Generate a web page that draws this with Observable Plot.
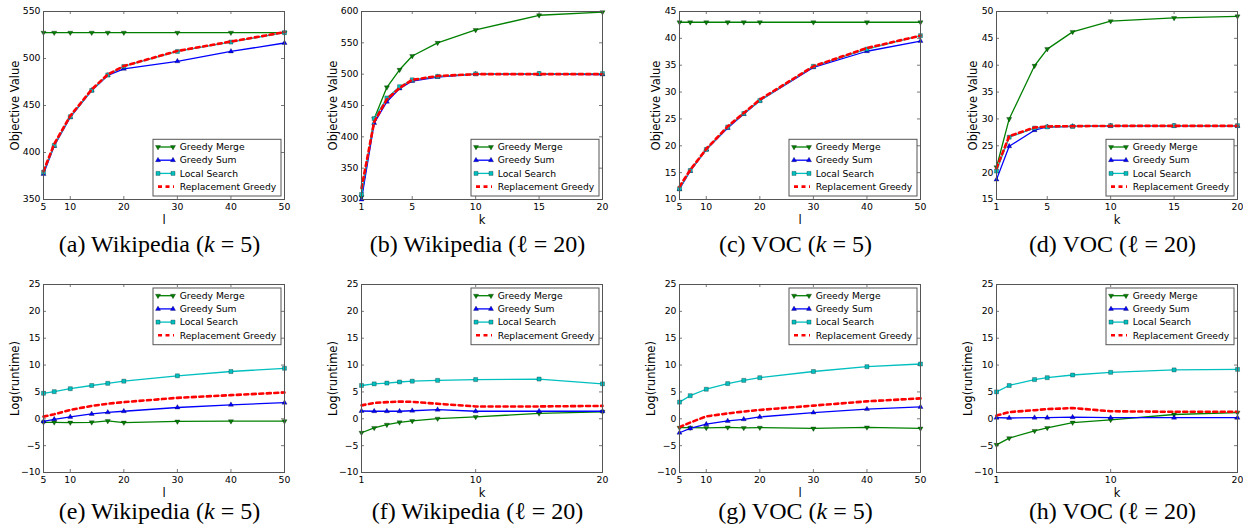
<!DOCTYPE html>
<html><head><meta charset="utf-8">
<script src="https://cdn.jsdelivr.net/npm/d3@7"></script>
<script src="https://cdn.jsdelivr.net/npm/@observablehq/plot@0.6"></script>
<style>
body{margin:0;background:#fff;}
#root{position:relative;width:1243px;height:529px;overflow:hidden;background:#fff;}
.panel{position:absolute;}
.cap{position:absolute;font-family:"Liberation Serif","Times New Roman",serif;font-size:24px;white-space:nowrap;transform:translateX(-50%);color:#000;line-height:20px;}
</style></head><body><div id="root"></div>
<script>
// ---------- data ----------
const seriesNames = ["Greedy Merge", "Greedy Sum", "Local Search", "Replacement Greedy"];
const lValues = [5, 7, 10, 14, 17, 20, 30, 40, 50];
const kValuesWiki = [1, 2, 3, 4, 5, 7, 10, 15, 20];
const kValuesVoc = [1, 2, 4, 5, 7, 10, 15, 20];

const lTicks = [5, 10, 20, 30, 40, 50];
const kTicksObj = [1, 5, 10, 15, 20];
const kTicksRun = [1, 10, 20];
const yTicksA = [350, 400, 450, 500, 550];
const yTicksB = [300, 350, 400, 450, 500, 550, 600];
const yTicksC = [10, 15, 20, 25, 30, 35, 40, 45];
const yTicksD = [15, 20, 25, 30, 35, 40, 45, 50];
const yTicksRun = [-10, -5, 0, 5, 10, 15, 20, 25];

// (a) Wikipedia, k = 5, objective vs l
const a_merge = [527.5, 527.5, 527.5, 527.5, 527.5, 527.5, 527.5, 527.5, 527.5];
const a_sum   = [377, 407, 437.5, 466, 482, 489, 497, 507.5, 516.5];
const a_local = [379, 407.5, 438, 466, 482.5, 491.5, 507.5, 517.5, 527.5];
const a_repl  = [380, 409, 439, 467, 483, 492, 508, 518, 528];
// (b) Wikipedia, l = 20, objective vs k
const b_merge = [304, 429, 479, 507, 529, 550, 570.5, 594, 599];
const b_sum   = [300, 422, 456, 477, 489, 495.5, 500, 500, 499.5];
const b_local = [308, 429, 462, 480, 491, 496.5, 500.5, 501, 501];
const b_repl  = [318, 424, 460, 478, 491, 497, 500, 500, 500];
// (c) VOC, k = 5, objective vs l
const c_merge = [43, 43, 43, 43, 43, 43, 43, 43, 43];
const c_sum   = [11.9, 15.3, 19.3, 23.3, 25.9, 28.4, 34.6, 37.6, 39.5];
const c_local = [12.0, 15.4, 19.3, 23.5, 26.0, 28.4, 34.8, 38.0, 40.5];
const c_repl  = [12.4, 15.5, 19.4, 23.6, 26.1, 28.6, 34.8, 38.2, 40.5];
// (d) VOC, l = 20, objective vs k
const d_merge = [21, 30, 39.9, 43, 46.2, 48.2, 48.8, 49.1];
const d_sum   = [18.7, 24.9, 27.9, 28.5, 28.6, 28.7, 28.7, 28.7];
const d_local = [20.3, 26.6, 28.3, 28.5, 28.6, 28.75, 28.75, 28.75];
const d_repl  = [20.8, 26.8, 28.4, 28.6, 28.65, 28.7, 28.7, 28.7];
// (e) Wikipedia, k = 5, log runtime vs l
const e_merge = [-0.65, -0.65, -0.7, -0.65, -0.4, -0.7, -0.5, -0.45, -0.45];
const e_sum   = [-0.5, -0.1, 0.35, 0.9, 1.2, 1.4, 2.1, 2.6, 3.0];
const e_local = [4.75, 5.05, 5.6, 6.2, 6.6, 7.0, 8.0, 8.8, 9.4];
const e_repl  = [0.4, 0.85, 1.65, 2.4, 2.8, 3.1, 3.9, 4.4, 4.9];
// (f) Wikipedia, l = 20, log runtime vs k
const f_merge = [-2.6, -1.7, -1.1, -0.65, -0.4, 0.03, 0.35, 1.0, 1.3];
const f_sum   = [1.45, 1.4, 1.4, 1.4, 1.5, 1.7, 1.4, 1.4, 1.4];
const f_local = [6.2, 6.5, 6.65, 6.85, 7.0, 7.15, 7.3, 7.4, 6.5];
const f_repl  = [2.5, 2.95, 3.1, 3.2, 3.15, 2.8, 2.3, 2.3, 2.4];
// (g) VOC, k = 5, log runtime vs l
const g_merge = [-1.65, -1.65, -1.7, -1.6, -1.7, -1.65, -1.8, -1.6, -1.8];
const g_sum   = [-2.6, -1.8, -1.0, -0.4, -0.1, 0.35, 1.15, 1.8, 2.2];
const g_local = [3.1, 4.3, 5.5, 6.55, 7.15, 7.65, 8.8, 9.7, 10.2];
const g_repl  = [-1.55, -0.7, 0.45, 1.0, 1.35, 1.65, 2.45, 3.25, 3.8];
// (h) VOC, l = 20, log runtime vs k
const h_merge = [-4.85, -3.6, -2.25, -1.7, -0.7, -0.2, 0.8, 1.15];
const h_sum   = [0.2, 0.15, 0.2, 0.2, 0.3, 0.2, 0.2, 0.2];
const h_local = [5.0, 6.2, 7.3, 7.65, 8.15, 8.65, 9.1, 9.2];
const h_repl  = [0.6, 1.25, 1.6, 1.8, 2.0, 1.4, 1.3, 1.3];

// ---------- styling ----------
const colors = ["#008000", "#0000ff", "#00bfbf", "#ff0000"];
const triangleDown = {
  draw(context, size) {
    const y = -Math.sqrt(size / (Math.sqrt(3) * 3));
    context.moveTo(0, -y * 2);
    context.lineTo(-Math.sqrt(3) * y, y);
    context.lineTo(Math.sqrt(3) * y, y);
    context.closePath();
  }
};
const symbols = [triangleDown, d3.symbolTriangle, d3.symbolSquare, null];
const radii = [1.9, 1.9, 2.3, 0];
const dash = "4,3.5";

const FW = 241, FH = 188, ML = 45, MT = 11, MR = 12, MB = 42;
const frameLefts = [43, 361, 679, 996];
const frameTops = [11, 284];

const panels = [
  {row:0, col:0, xs:lValues, xt:lTicks, xl:"l", yd:[350,550], yt:yTicksA, yl:"Objective Value", lo:33, s:[a_merge,a_sum,a_local,a_repl], cap:'(a) Wikipedia (<i>k</i> = 5)'},
  {row:0, col:1, xs:kValuesWiki, xt:kTicksObj, xl:"k", yd:[300,600], yt:yTicksB, yl:"Objective Value", lo:33, s:[b_merge,b_sum,b_local,b_repl], cap:'(b) Wikipedia (ℓ = 20)'},
  {row:0, col:2, xs:lValues, xt:lTicks, xl:"l", yd:[10,45], yt:yTicksC, yl:"Objective Value", lo:28, s:[c_merge,c_sum,c_local,c_repl], cap:'(c) VOC (<i>k</i> = 5)'},
  {row:0, col:3, xs:kValuesVoc, xt:kTicksObj, xl:"k", yd:[15,50], yt:yTicksD, yl:"Objective Value", lo:28, s:[d_merge,d_sum,d_local,d_repl], cap:'(d) VOC (ℓ = 20)'},
  {row:1, col:0, xs:lValues, xt:lTicks, xl:"l", yd:[-10,25], yt:yTicksRun, yl:"Log(runtime)", lo:33, s:[e_merge,e_sum,e_local,e_repl], cap:'(e) Wikipedia (<i>k</i> = 5)'},
  {row:1, col:1, xs:kValuesWiki, xt:kTicksRun, xl:"k", yd:[-10,25], yt:yTicksRun, yl:"Log(runtime)", lo:33, s:[f_merge,f_sum,f_local,f_repl], cap:'(f) Wikipedia (ℓ = 20)'},
  {row:1, col:2, xs:lValues, xt:lTicks, xl:"l", yd:[-10,25], yt:yTicksRun, yl:"Log(runtime)", lo:33, s:[g_merge,g_sum,g_local,g_repl], cap:'(g) VOC (<i>k</i> = 5)'},
  {row:1, col:3, xs:kValuesVoc, xt:kTicksRun, xl:"k", yd:[-10,25], yt:yTicksRun, yl:"Log(runtime)", lo:33, s:[h_merge,h_sum,h_local,h_repl], cap:'(h) VOC (ℓ = 20)'}
];

const root = document.getElementById("root");
const axisColor = "#555";

function addLegend(svg, row) {
  const bw = 128, bh = 56.7;
  const bx = ML + FW - 3 - bw;
  const by = row === 0 ? MT + FH - 3 - bh : MT + 4;
  const g = d3.select(svg).append("g").attr("transform", `translate(${bx},${by})`)
    .attr("text-anchor", "start");
  g.append("rect").attr("width", bw).attr("height", bh).attr("fill", "white").attr("stroke", "#555").attr("stroke-width", 1);
  seriesNames.forEach((name, i) => {
    const cy = 7.7 + i * 13.2;
    const line = g.append("line").attr("x1", 5).attr("x2", 20).attr("y1", cy).attr("y2", cy).attr("stroke", colors[i]);
    if (i === 3) line.attr("stroke-width", 2.6).attr("stroke-dasharray", dash).attr("x1", 5).attr("x2", 21);
    else line.attr("stroke-width", 1.3);
    if (symbols[i]) {
      const sym = d3.symbol().type(symbols[i]).size(radii[i] * radii[i] * Math.PI);
      [5, 20].forEach(px => g.append("path").attr("d", sym()).attr("transform", `translate(${px},${cy})`)
        .attr("fill", colors[i]).attr("stroke", "#000").attr("stroke-width", 0.4).attr("stroke-opacity", 0.7));
    }
    g.append("text").attr("x", 26.7).attr("y", cy).attr("dy", "0.35em").attr("font-size", 9.2)
      .attr("text-anchor", "start").attr("font-family", "DejaVu Sans").attr("fill", "#000").text(name);
  });
}

panels.forEach(p => {
  const marks = [];
  p.s.forEach((vals, i) => {
    const rows = p.xs.map((x, j) => ({x, y: vals[j]}));
    if (i === 3) {
      marks.push(Plot.line(rows, {x: "x", y: "y", stroke: colors[i], strokeWidth: 2.6, strokeDasharray: dash}));
    } else {
      marks.push(Plot.line(rows, {x: "x", y: "y", stroke: colors[i], strokeWidth: 1.3}));
      marks.push(Plot.dot(rows, {x: "x", y: "y", symbol: symbols[i], r: radii[i], fill: colors[i], stroke: "#000", strokeWidth: 0.4, strokeOpacity: 0.7}));
    }
  });
  const plot = Plot.plot({
    width: ML + FW + MR, height: MT + FH + MB,
    marginLeft: ML, marginTop: MT, marginRight: MR, marginBottom: MB,
    style: {fontFamily: "DejaVu Sans", fontSize: "9px", overflow: "visible", background: "transparent", color: "#000"},
    x: {domain: [p.xs[0], p.xs[p.xs.length - 1]]},
    y: {domain: p.yd},
    marks: [
      Plot.tickX(p.xt, {x: d => d, insetTop: FH - 3, stroke: axisColor, strokeWidth: 0.8}),
      Plot.tickX(p.xt, {x: d => d, insetBottom: FH - 3, stroke: axisColor, strokeWidth: 0.8}),
      Plot.tickY(p.yt, {y: d => d, insetRight: FW - 3, stroke: axisColor, strokeWidth: 0.8}),
      Plot.tickY(p.yt, {y: d => d, insetLeft: FW - 3, stroke: axisColor, strokeWidth: 0.8}),
      ...marks,
      Plot.frame({stroke: axisColor, strokeWidth: 1}),
      Plot.axisX(p.xt, {tickSize: 0, tickPadding: 4, fontSize: 9.3, label: null, fill: "#000"}),
      Plot.axisY(p.yt, {tickSize: 0, tickPadding: 3, fontSize: 9.3, label: null, fill: "#000"}),
      Plot.axisX([], {tickSize: 0, label: p.xl, labelAnchor: "center", labelOffset: 24, labelArrow: "none", fontSize: 11.5, fill: "#000"}),
      Plot.axisY([], {tickSize: 0, label: p.yl, labelAnchor: "center", labelOffset: p.lo, labelArrow: "none", fontSize: 11.5, fill: "#000"})
    ]
  });
  addLegend(plot, p.row);
  plot.classList.add("panel");
  plot.style.left = (frameLefts[p.col] - ML) + "px";
  plot.style.top = (frameTops[p.row] - MT) + "px";
  root.appendChild(plot);

  const cap = document.createElement("div");
  cap.className = "cap";
  cap.innerHTML = p.cap;
  cap.style.left = (frameLefts[p.col] + FW / 2 - 4) + "px";
  cap.style.top = (p.row === 0 ? 234 : 501) + "px";
  root.appendChild(cap);
});
</script></body></html>
